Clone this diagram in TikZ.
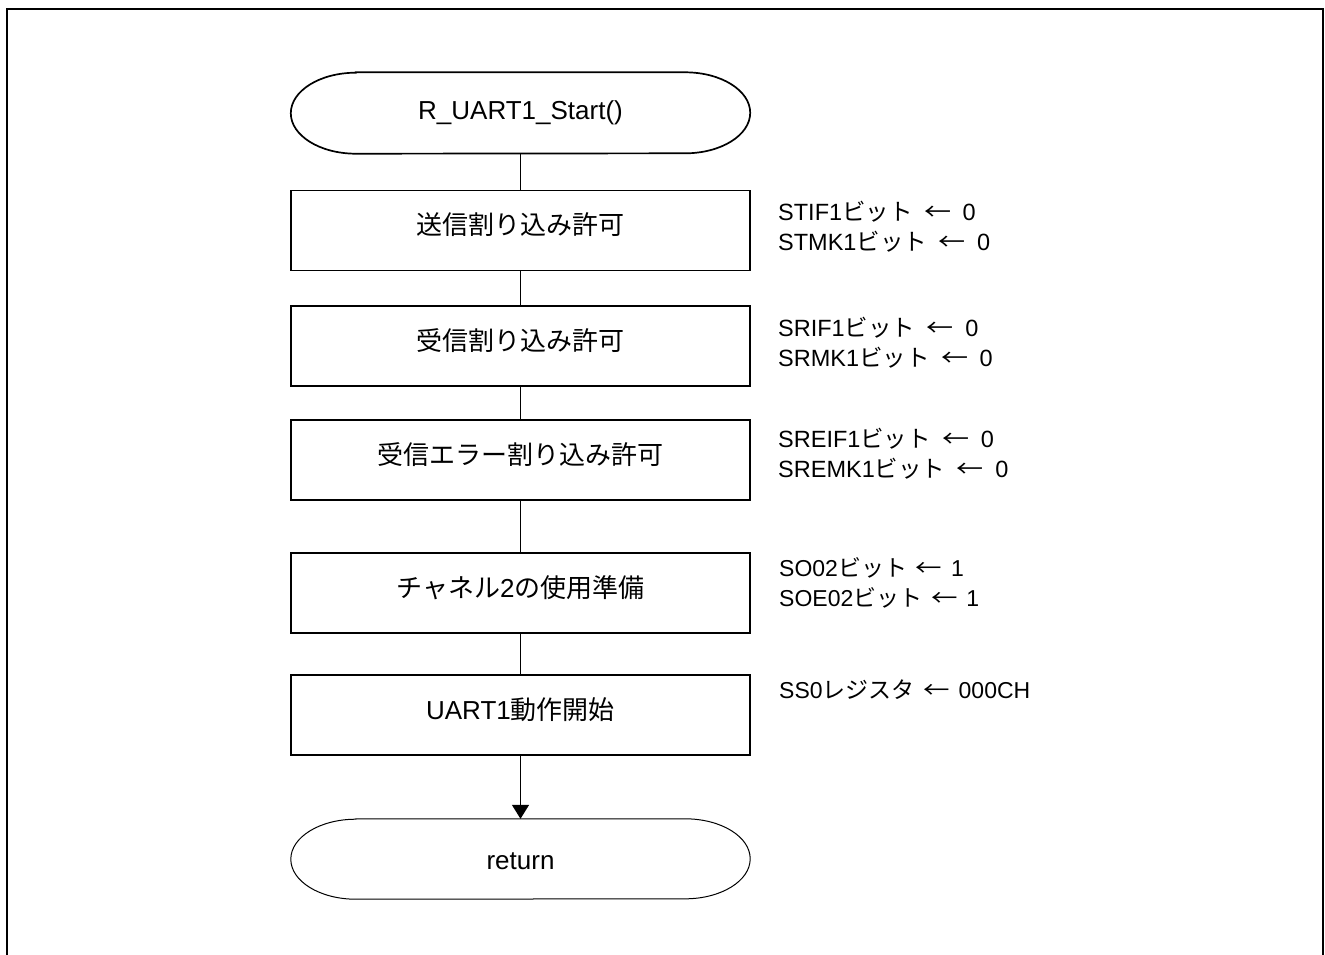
\documentclass[tikz,border=0pt]{standalone}
\usepackage{fontspec}
\setmainfont{Liberation Sans}
\newfontfamily\jp{Noto Sans CJK JP}
\usetikzlibrary{arrows.meta}
\newcommand{\J}[1]{{\jp #1}}
\newcommand{\larr}[1][50pt]{\makebox[#1]{\jp\scalebox{1.15}[1]{←}}}
\begin{document}
\begin{tikzpicture}[x=1pt,y=-1pt,
  procbox/.style={draw,line width=1.7pt,minimum width=459pt,minimum height=80pt,inner sep=0pt},
  termnode/.style={minimum width=459pt,minimum height=81pt,inner sep=0pt},
  boxtext/.style={font=\fontsize{26}{30}\selectfont,inner sep=0pt},
  notetext/.style={font=\fontsize{23.5}{30}\selectfont,anchor=west,align=left,inner sep=0pt},
  conn/.style={line width=1.4pt},
  frameline/.style={line width=2.5pt}]
\useasboundingbox (0,0) rectangle (1325,954);
\draw[frameline] (7,960) -- (7,9) -- (1323,9) -- (1323,960);

% terminals
\node[termnode] (start) at (520.5,113) {};
\node[boxtext] (starttxt) at (520.5,113) {R\_UART1\_Start()};
\draw[line width=1.7pt] ([xshift=65pt]start.north west) -- ([xshift=-65pt]start.north east)
  arc[start angle=90,end angle=-90,x radius=65pt,y radius=40.5pt]
  -- ([xshift=65pt]start.south west)
  arc[start angle=270,end angle=90,x radius=65pt,y radius=40.5pt] -- cycle;

\node[termnode,minimum height=80pt] (ret) at (520.5,859) {};
\node[boxtext] (rettxt) at (520.5,861) {return};
\draw[line width=1pt] ([xshift=65pt]ret.north west) -- ([xshift=-65pt]ret.north east)
  arc[start angle=90,end angle=-90,x radius=65pt,y radius=40pt]
  -- ([xshift=65pt]ret.south west)
  arc[start angle=270,end angle=90,x radius=65pt,y radius=40pt] -- cycle;

% process boxes
\node[procbox] (b1) at (520.5,230.5) {};
\node[boxtext] (t1) at (520.5,225) {\J{送信割り込み許可}};
\node[procbox] (b2) at (520.5,346) {};
\node[boxtext] (t2) at (520.5,340.5) {\J{受信割り込み許可}};
\node[procbox] (b3) at (520.5,460) {};
\node[boxtext] (t3) at (520.5,454.5) {\J{受信エラー割り込み許可}};
\node[procbox] (b4) at (520.5,593) {};
\node[boxtext] (t4) at (520.5,587.5) {\J{チャネル}2\J{の使用準備}};
\node[procbox] (b5) at (520.5,715) {};
\node[boxtext] (t5) at (520.5,709.5) {UART1\J{動作開始}};

% connectors
\draw[conn] (start.south) -- (b1.north);
\draw[conn] (b1.south) -- (b2.north);
\draw[conn] (b2.south) -- (b3.north);
\draw[conn] (b3.south) -- (b4.north);
\draw[conn] (b4.south) -- (b5.north);
\draw[conn,-{Triangle[length=14pt,width=17pt]}] (b5.south) -- (ret.north);

% notes
\node[notetext] (n1) at (778,227) {STIF1\J{ビット}\larr0\\STMK1\J{ビット}\larr0};
\node[notetext] (n2) at (778,342.5) {SRIF1\J{ビット}\larr0\\SRMK1\J{ビット}\larr0};
\node[notetext] (n3) at (778,454) {SREIF1\J{ビット}\larr0\\SREMK1\J{ビット}\larr0};
\node[notetext,font=\fontsize{23}{30}\selectfont] (n4) at (779,583) {SO02\J{ビット}\larr[44pt]1\\SOE02\J{ビット}\larr[44pt]1};
\node[notetext,font=\fontsize{23}{30}\selectfont] (n5) at (779,690) {SS0\J{レジスタ}\larr[44pt]000CH};
\end{tikzpicture}
\end{document}
